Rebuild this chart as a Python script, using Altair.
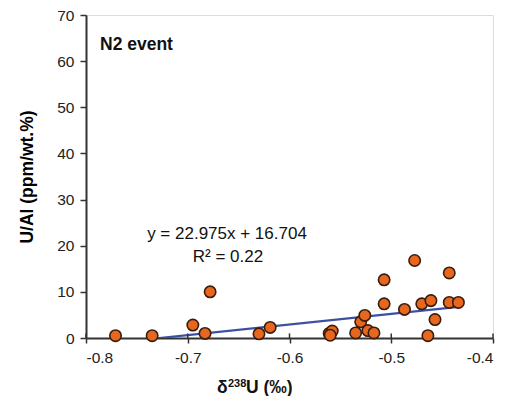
import altair as alt
import pandas as pd

# delta238U (permil) and U/Al (ppm/wt.%)
d238u = [-0.771, -0.735, -0.695, -0.678, -0.683, -0.630, -0.619,
         -0.561, -0.558, -0.560, -0.535, -0.530, -0.526, -0.523, -0.517,
         -0.507, -0.507, -0.487, -0.477, -0.470, -0.464, -0.461, -0.457,
         -0.443, -0.443, -0.434]
u_al = [0.5, 0.5, 2.8, 10.0, 1.0, 0.9, 2.3,
        1.0, 1.5, 0.6, 1.1, 3.5, 4.9, 1.6, 1.1,
        12.6, 7.4, 6.2, 16.8, 7.4, 0.5, 8.1, 4.0,
        14.1, 7.7, 7.7]

x_ticks = [-0.8, -0.7, -0.6, -0.5, -0.4]
y_ticks = [0, 10, 20, 30, 40, 50, 60, 70]

slope = 22.975
intercept = 16.704
r2 = 0.22

pts = pd.DataFrame({"x": d238u, "y": u_al})
xmin, xmax = min(d238u), max(d238u)
fit = pd.DataFrame({"x": [xmin, xmax],
                    "y": [slope * xmin + intercept, slope * xmax + intercept]})
ticks_df = pd.DataFrame({"x": x_ticks})

FONT = "Liberation Sans"

xscale = alt.Scale(domain=[-0.8, -0.4], nice=False, zero=False)
yscale = alt.Scale(domain=[0, 70], nice=False)

xaxis = alt.Axis(values=x_ticks, labelExpr="replace(format(datum.value, '.1f'), '−', '-')",
                 title=None, grid=False, labelFontSize=15.5,
                 domainColor="#333", domainWidth=2, tickColor="#333",
                 tickWidth=1.5, tickSize=5, labelColor="#222", labelPadding=7)
yaxis = alt.Axis(values=y_ticks, title="U/Al (ppm/wt.%)",
                 grid=False, labelFontSize=15.5, titleFontSize=17.5,
                 titleFontWeight="bold", titlePadding=20,
                 domainColor="#333", domainWidth=2, tickColor="#333",
                 tickWidth=1.5, tickSize=6, labelColor="#222", labelPadding=6)

line = alt.Chart(fit).mark_line(color="#3b4fa3", strokeWidth=2.2, clip=True).encode(
    x=alt.X("x:Q", scale=xscale, axis=xaxis),
    y=alt.Y("y:Q", scale=yscale, axis=yaxis),
)

inner_ticks = alt.Chart(ticks_df).mark_rule(color="#333", strokeWidth=1.5).encode(
    x="x:Q", y=alt.datum(0), y2=alt.datum(1.0)
)

points = alt.Chart(pts).mark_point(
    filled=True, fill="#e8671e", stroke="#3a1c0c", strokeWidth=1.6,
    size=130, opacity=1, shape="circle"
).encode(x="x:Q", y="y:Q")


def txt(s, x, y, size, bold=False, baseline="middle", align="left"):
    return alt.Chart(pd.DataFrame({"t": [s]})).mark_text(
        font=FONT, fontSize=size, fontWeight="bold" if bold else "normal",
        color="#111", align=align, baseline=baseline
    ).encode(x=alt.value(x), y=alt.value(y), text="t:N")


eq_text = txt(f"y = {slope}x + {intercept}", 141, 219, 17, align="center")
r2_text = txt(f"R² = {r2}", 142, 242, 17, align="center")
label = txt("N2 event", 14, 30, 17.5, bold=True)

# x-axis title: δ²³⁸U (‰) with a real superscript
xt1 = txt("δ", 131, 378, 17.5, bold=True, baseline="alphabetic")
xt2 = txt("238", 142, 372, 11, bold=True, baseline="alphabetic")
xt3 = txt("U (‰)", 160, 378, 17.5, bold=True, baseline="alphabetic")

chart = alt.layer(line, inner_ticks, points, eq_text, r2_text, label,
                  xt1, xt2, xt3).properties(
    width=407, height=323,
    autosize=alt.AutoSizeParams(type="none"),
    padding={"left": 78, "top": 7, "right": 9, "bottom": 58},
).configure_view(
    stroke="#555", strokeWidth=2
).configure_axis(
    labelFont=FONT, titleFont=FONT
).configure(background="white")

chart.save("out.html", embed_options={"renderer": "svg", "actions": False})
